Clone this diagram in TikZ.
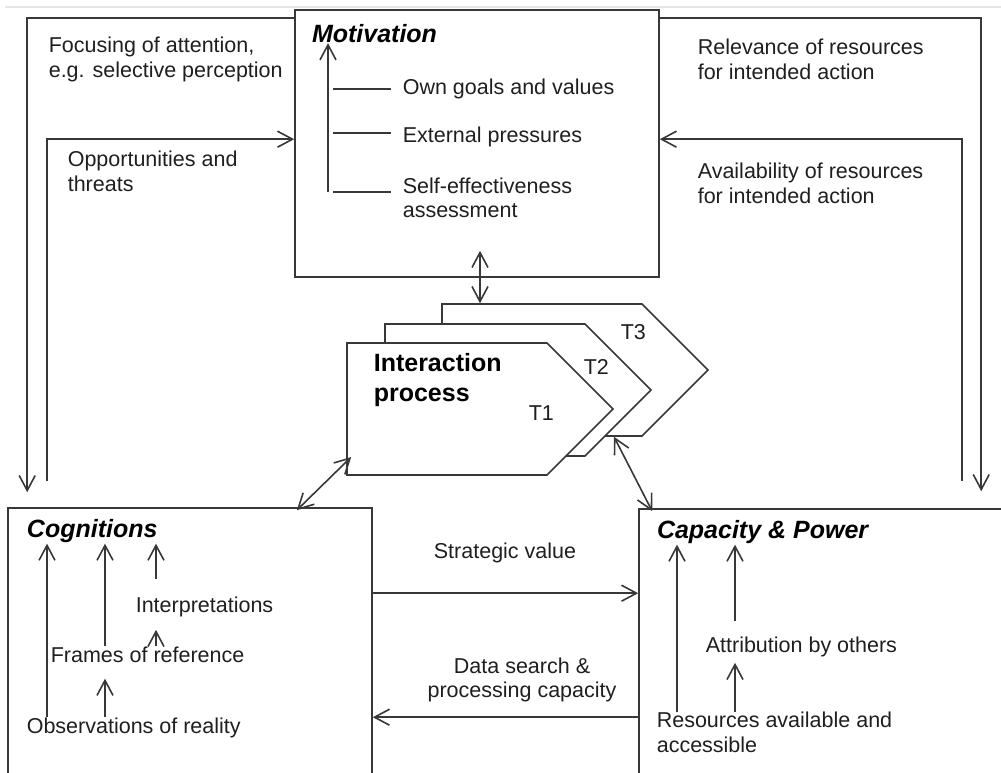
\documentclass[tikz,border=0pt]{standalone}
\usepackage{fontspec}
\setmainfont{Liberation Sans}
\usetikzlibrary{arrows.meta,positioning,shapes.symbols}

\tikzset{
  lbl/.style={anchor=west,inner sep=0pt,align=left,text=black!88,
    font=\fontsize{21.5}{24.5}\selectfont},
  ttl/.style={anchor=west,inner sep=0pt,text=black,
    font=\fontsize{25}{28}\selectfont\bfseries\itshape},
  box/.style={draw,rectangle,inner sep=0pt,minimum width=364pt},
  proc/.style={draw,fill=white,signal,signal to=east,signal pointer angle=90,
    inner sep=0pt,minimum width=266pt,minimum height=132pt},
}

\begin{document}
\begin{tikzpicture}[x=1pt,y=-1pt,line width=1.6pt,color=black!78,
  >={Straight Barb[length=15pt,width=16pt]}]
  \useasboundingbox (0,0) rectangle (1001,773);
  \clip (0,0) rectangle (1001,773);
  \draw[black!10,line width=2pt] (5,7) -- (1001,7);

  \node[box,minimum height=267pt] (mot) at (477,143.5) {};
  \node[box,minimum height=300pt] (cog) at (190,658) {};
  \node[box,minimum width=380pt,minimum height=300pt] (cap) at (829,659) {};

  \node[ttl,below right=24pt and 17pt of mot.north west,anchor=west] (motttl) {Motivation};
  \node[ttl,below right=24pt and 19pt of cog.north west,anchor=west] (cogttl) {Cognitions};
  \node[ttl,below right=24pt and 18pt of cap.north west,anchor=west] (capttl) {Capacity \& Power};

  \node[lbl] (goals) at (402,89) {Own goals and values};
  \node[lbl,below=48pt of goals.west,anchor=west] (extp) {External pressures};
  \node[lbl,below=61pt of extp.west,anchor=west] (selfeff) {Self-effectiveness\\assessment};
  \coordinate (mstem) at (328,192);
  \draw[->] (mstem) -- (mstem |- motttl.south);
  \draw ([xshift=5pt]mstem |- goals.west) -- ([xshift=-11pt]goals.west);
  \draw ([xshift=5pt,yshift=4pt]mstem |- extp.west) -- ([xshift=-11pt,yshift=4pt]extp.west);
  \draw ([xshift=5pt]mstem) -- ([xshift=-11pt]selfeff.west |- mstem);

  \node[lbl] (focus) at (48,59.5) {Focusing of attention,\\e.g. selective perception};
  \node[lbl] (opp) at (67,171.5) {Opportunities and\\threats};
  \node[lbl] (relev) at (697,59.5) {Relevance of resources\\for intended action};
  \node[lbl] (avail) at (697,183.5) {Availability of resources\\for intended action};

  \draw[->] ([yshift=-9pt]mot.north west) -| ([xshift=20pt,yshift=15pt]cog.north west);
  \draw[->] ([xshift=40pt,yshift=26pt]cog.north west) |- ([yshift=-130pt]mot.north west);
  \draw[->] ([yshift=-9pt]mot.north east) -| ([xshift=343pt,yshift=17pt]cap.north west);
  \draw[->] ([xshift=324pt,yshift=27pt]cap.north west) |- ([yshift=-130pt]mot.north east);

  \node[proc] (t3) at (542,370) {};
  \node[proc] (t2) at (485,390) {};
  \node[proc] (t1) at (447,409) {};
  \node[inner sep=0pt,anchor=west,align=left,text=black,
    font=\fontsize{25}{30}\selectfont\bfseries] (iproc) at (373,380) {Interaction\\process};
  \node[lbl] (t1lbl) at ([shift={(81,4)}]t1.center) {T1};
  \node[lbl] (t2lbl) at ([shift={(98,-23)}]t2.center) {T2};
  \node[lbl] (t3lbl) at ([shift={(78,-38)}]t3.center) {T3};

  \draw[<->] ([xshift=3pt,yshift=27pt]mot.south) -- ([xshift=3pt]mot.south |- t3.north);
  \draw[<->] ([xshift=5pt,yshift=-48pt]t1.west) -- ([xshift=-76pt,yshift=-3pt]cog.north east);
  \draw[<->] ([xshift=72pt]t3.south) -- ([xshift=14pt,yshift=-3pt]cap.north west);

  \draw[->] ([yshift=-86pt]cog.north east) -- ([yshift=-86pt]cog.north east -| cap.west);
  \draw[->] ([yshift=-210pt]cog.north east -| cap.west) -- ([yshift=-210pt]cog.north east);
  \node[lbl,anchor=center] (strat) at (505,553) {Strategic value};
  \node[lbl,anchor=center,align=center] (dsearch) at (522,680) {Data search \&\\processing capacity};

  \node[lbl] (obs) at (26,728) {Observations of reality};
  \node[lbl] (frames) at (50,655) {Frames of reference};
  \node[lbl] (interp) at (135,607) {Interpretations};
  \draw[->] ([xshift=21pt]obs.north west) -- ([xshift=21pt]obs.north west |- cogttl.south);
  \draw[->] ([xshift=55pt]frames.north west) -- ([xshift=55pt]frames.north west |- cogttl.south);
  \draw[->] ([xshift=21pt,yshift=17pt]interp.north west) -- ([xshift=21pt]interp.north west |- cogttl.south);
  \draw[->] ([xshift=106pt]frames.north west) -- ([xshift=106pt,yshift=-12pt]frames.north west |- interp.south);
  \draw[->] ([xshift=79pt]obs.north west) -- ([xshift=79pt,yshift=-15pt]obs.north west |- frames.south);

  \node[lbl] (res) at (656,732.5) {Resources available and\\accessible};
  \node[lbl] (attr) at (705,647) {Attribution by others};
  \draw[->] ([xshift=21pt]res.north west) -- ([xshift=21pt]res.north west |- capttl.south);
  \draw[->] ([xshift=30pt,yshift=15pt]attr.north west) -- ([xshift=30pt]attr.north west |- capttl.south);
  \draw[->] ([xshift=79pt]res.north west) -- ([xshift=79pt,yshift=-5pt]res.north west |- attr.south);
\end{tikzpicture}
\end{document}
